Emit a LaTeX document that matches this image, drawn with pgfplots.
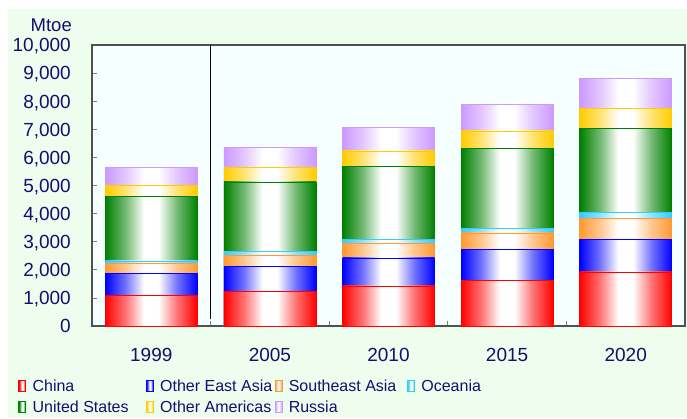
\documentclass[border=0pt]{standalone}
\usepackage{pgfplots}
\pgfplotsset{compat=1.18}
\usepackage{pgfplotstable}
\usepackage{fontspec}
\setmainfont{Liberation Sans}

\definecolor{txt}{RGB}{16,16,112}
\definecolor{bggreen}{RGB}{238,254,238}
\definecolor{plotbg}{RGB}{246,255,255}
\definecolor{frame}{RGB}{80,80,80}
\definecolor{cChina}{RGB}{255,0,0}
\definecolor{cOEA}{RGB}{0,0,255}
\definecolor{cSEA}{RGB}{255,153,51}
\definecolor{cOce}{RGB}{51,204,255}
\definecolor{cUS}{RGB}{0,128,0}
\definecolor{cOAm}{RGB}{255,204,0}
\definecolor{cRus}{RGB}{204,153,255}
\colorlet{barcol}{red}

% colour at both edges, white in the middle
\pgfdeclarehorizontalshading[barcol]{barshade}{100bp}{%
  color(0bp)=(barcol); color(25bp)=(barcol); color(36bp)=(barcol!55!white);
  color(46bp)=(white); color(54bp)=(white); color(64bp)=(barcol!55!white);
  color(75bp)=(barcol); color(100bp)=(barcol)}

% Mtoe, cumulative top of each segment (China at the bottom)
\pgfplotstableread{
x china oea sea oce us oam rus
0 1080 1870 2225 2320 4625 5015 5645
1 1225 2125 2515 2660 5130 5630 6360
2 1425 2425 2935 3080 5670 6230 7060
3 1630 2735 3315 3470 6320 6940 7900
4 1925 3090 3830 4030 7040 7730 8820
}\energy

\pgfplotsset{
  seg/.style={/utils/exec={\colorlet{barcol}{#1}}, draw=#1, line width=0.6pt, shading=barshade,
    legend image code/.code={%
      \colorlet{barcol}{#1}%
      \draw[draw=#1, line width=1.1pt, shading=barshade]
        (0.6pt,-5.5pt) rectangle (7.6pt,5.5pt);
      \path (0pt,0pt) (14pt,0pt);}},
}

\begin{document}
\begin{tikzpicture}
\path[use as bounding box] (-92pt,-92pt) rectangle (595pt,326pt);
\fill[white] (-92pt,-92pt) rectangle (595pt,326pt);
\fill[bggreen] (-84pt,-92pt) rectangle (595pt,317pt);
\begin{axis}[
  scale only axis,
  width=593pt, height=281pt,
  ybar, bar shift=0pt,
  bar width=92pt,
  xmin=-0.5, xmax=4.5,
  ymin=0, ymax=10000,
  xtick={0,1,2,3,4},
  xticklabels={1999,2005,2010,2015,2020},
  minor xtick={0.5,1.5,2.5,3.5},
  ytick={0,1000,...,10000},
  scaled y ticks=false,
  /pgf/number format/.cd, 1000 sep={,}, assume math mode=true, /pgfplots/.cd,
  tick pos=left,
  tick align=inside,
  major tick length=5pt,
  minor tick length=5pt,
  major x tick style={draw=none},
  tick style={draw=gray, line width=0.8pt},
  axis line style={draw=frame, line width=1.5pt},
  axis background/.style={fill=plotbg},
  ticklabel style={font=\fontsize{19}{22}\selectfont, text=txt},
  xticklabel style={anchor=base, yshift=-35pt},
  yticklabel style={anchor=base east, inner xsep=0pt, xshift=-21pt, yshift=-6.8pt},
  legend columns=4,
  legend style={at={(axis description cs:-0.1248,-0.175)}, anchor=north west,
    draw=none, fill=none, inner sep=0pt, outer sep=0pt,
    font=\fontsize{16}{18}\selectfont, text=txt,
    column sep=0pt, row sep=0pt,
    nodes={inner xsep=0pt, inner ysep=0pt, text height=16pt, text depth=5pt}},
  legend cell align=left,
]
% one path per bar, so that each bar gets its own shading; taller segments first
\pgfplotsinvokeforeach{0,1,2,3,4}{
  \addplot[seg=cRus,   forget plot, x filter/.expression={abs(x-#1)<0.1 ? x : nan}] table[x=x, y=rus]   {\energy};
  \addplot[seg=cOAm,   forget plot, x filter/.expression={abs(x-#1)<0.1 ? x : nan}] table[x=x, y=oam]   {\energy};
  \addplot[seg=cUS,    forget plot, x filter/.expression={abs(x-#1)<0.1 ? x : nan}] table[x=x, y=us]    {\energy};
  \addplot[seg=cOce,   forget plot, x filter/.expression={abs(x-#1)<0.1 ? x : nan}] table[x=x, y=oce]   {\energy};
  \addplot[seg=cSEA,   forget plot, x filter/.expression={abs(x-#1)<0.1 ? x : nan}] table[x=x, y=sea]   {\energy};
  \addplot[seg=cOEA,   forget plot, x filter/.expression={abs(x-#1)<0.1 ? x : nan}] table[x=x, y=oea]   {\energy};
  \addplot[seg=cChina, forget plot, x filter/.expression={abs(x-#1)<0.1 ? x : nan}] table[x=x, y=china] {\energy};
}
\addlegendimage{seg=cChina}\addlegendentry{\makebox[113pt][l]{China}}
\addlegendimage{seg=cOEA}\addlegendentry{\makebox[114pt][l]{Other East Asia}}
\addlegendimage{seg=cSEA}\addlegendentry{\makebox[118pt][l]{Southeast Asia}}
\addlegendimage{seg=cOce}\addlegendentry{Oceania}
\addlegendimage{seg=cUS}\addlegendentry{\makebox[113pt][l]{United States}}
\addlegendimage{seg=cOAm}\addlegendentry{\makebox[114pt][l]{Other Americas}}
\addlegendimage{seg=cRus}\addlegendentry{\makebox[118pt][l]{Russia}}
\draw[black, line width=1pt] (axis cs:0.5,250) -- (axis cs:0.5,10000);
\end{axis}
\node[anchor=base east, inner sep=0pt, text=txt, font=\fontsize{18.5}{22}\selectfont] at (-20pt,294pt) {Mtoe};
\end{tikzpicture}
\end{document}
